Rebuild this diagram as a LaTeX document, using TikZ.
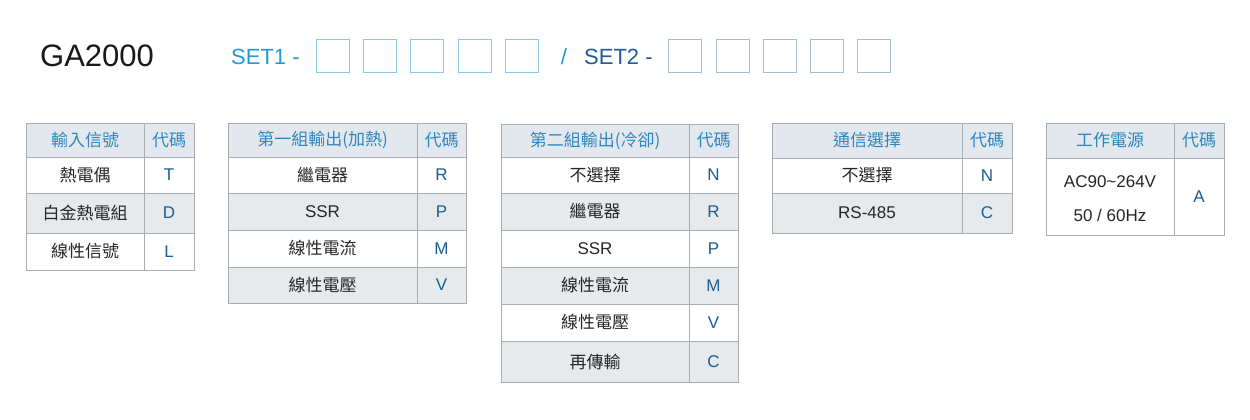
\documentclass[tikz,border=0pt]{standalone}
\usepackage{fontspec}
\setmainfont{Liberation Sans}
\newfontfamily\cjk{Noto Sans CJK TC}
\definecolor{hdr}{HTML}{E2E8ED}
\definecolor{rowgray}{HTML}{E6EAED}
\definecolor{hdrtxt}{HTML}{2F86BE}
\definecolor{codetxt}{HTML}{1B5E91}
\definecolor{lineg}{HTML}{A8ADB2}
\definecolor{setone}{HTML}{1E9AD8}
\definecolor{settwo}{HTML}{1F5C99}
\definecolor{boxone}{HTML}{8CC8E2}
\definecolor{boxtwo}{HTML}{A9BDCD}
\tikzset{
  cell/.style={draw=lineg, line width=0.8pt},
  txt/.style={font=\cjk\fontsize{17}{19}\selectfont, text=black!85, inner sep=0pt},
  htxt/.style={font=\cjk\fontsize{17}{19}\selectfont, text=hdrtxt, inner sep=0pt},
  ctxt/.style={font=\fontsize{17}{19}\selectfont, text=codetxt, inner sep=0pt},
  ltxt/.style={font=\fontsize{17}{19}\selectfont, text=black!85, inner sep=0pt},
  sqone/.style={draw=boxone, line width=0.8pt},
  sqtwo/.style={draw=boxtwo, line width=0.8pt},
}
% \trow{x1}{xd}{x2}{y1}{y2}{fill}{name}{left text}{right text}
\newcommand{\trow}[9]{%
  \fill[fill=#6] (#1,#4) rectangle (#3,#5);
  \draw[cell] (#1,#4) rectangle (#3,#5);
  \draw[cell] (#2,#4) -- (#2,#5);
  \node[txt] (#7l) at ({(#1+#2)/2},{(#4+#5)/2}) {#8};
  \node[ctxt] (#7r) at ({(#2+#3)/2},{(#4+#5)/2}) {#9};
}
\newcommand{\hrow}[8]{%
  \fill[fill=hdr] (#1,#4) rectangle (#3,#5);
  \draw[cell] (#1,#4) rectangle (#3,#5);
  \draw[cell] (#2,#4) -- (#2,#5);
  \node[htxt] (#6l) at ({(#1+#2)/2},{(#4+#5)/2}) {#7};
  \node[htxt] (#6r) at ({(#2+#3)/2},{(#4+#5)/2}) {#8};
}
\newcommand{\lat}[1]{{\rmfamily\fontsize{17}{19}\selectfont #1}}
\begin{document}
\begin{tikzpicture}[x=1pt,y=-1pt]
\useasboundingbox (0,0) rectangle (1250,420);
\node[font=\fontsize{31}{33}\selectfont, text=black!90, anchor=west, inner sep=0pt] (title) at (40,56) {GA2000};
\node[font=\fontsize{22}{24}\selectfont, text=setone, anchor=west, inner sep=0pt] (s1) at (231,57) {SET1 -};
\foreach \x [count=\i] in {316,363,410,458,505} \draw[sqone] (\x,39) rectangle ++(33,33) coordinate (a\i);
\node[font=\fontsize{22}{24}\selectfont, text=setone, inner sep=0pt] (sl) at (564,57) {/};
\node[font=\fontsize{22}{24}\selectfont, text=settwo, anchor=west, inner sep=0pt] (s2) at (584,57) {SET2 -};
\foreach \x [count=\i] in {668,716,763,810,857} \draw[sqtwo] (\x,39) rectangle ++(33,33) coordinate (b\i);
% table 1
\hrow{26}{144}{194}{123}{157}{ah}{輸入信號}{代碼}
\trow{26}{144}{194}{157}{193}{white}{a1}{熱電偶}{T}
\trow{26}{144}{194}{193}{233}{rowgray}{a2}{白金熱電組}{D}
\trow{26}{144}{194}{233}{270}{white}{a3}{線性信號}{L}
% table 2
\hrow{228}{417}{466}{123}{157}{bh}{第一組輸出(加熱)}{代碼}
\trow{228}{417}{466}{157}{193}{white}{b1}{繼電器}{R}
\trow{228}{417}{466}{193}{230}{rowgray}{b2}{\lat{SSR}}{P}
\trow{228}{417}{466}{230}{267}{white}{b3}{線性電流}{M}
\trow{228}{417}{466}{267}{303}{rowgray}{b4}{線性電壓}{V}
% table 3
\hrow{501}{689}{738}{124}{157}{ch}{第二組輸出(冷卻)}{代碼}
\trow{501}{689}{738}{157}{193}{white}{c1}{不選擇}{N}
\trow{501}{689}{738}{193}{230}{rowgray}{c2}{繼電器}{R}
\trow{501}{689}{738}{230}{267}{white}{c3}{\lat{SSR}}{P}
\trow{501}{689}{738}{267}{304}{rowgray}{c4}{線性電流}{M}
\trow{501}{689}{738}{304}{341}{white}{c5}{線性電壓}{V}
\trow{501}{689}{738}{341}{382}{rowgray}{c6}{再傳輸}{C}
% table 4
\hrow{772}{962}{1012}{123}{158}{dh}{通信選擇}{代碼}
\trow{772}{962}{1012}{158}{193}{white}{d1}{不選擇}{N}
\trow{772}{962}{1012}{193}{233}{rowgray}{d2}{\lat{RS-485}}{C}
% table 5
\hrow{1046}{1174}{1224}{123}{158}{eh}{工作電源}{代碼}
\trow{1046}{1174}{1224}{158}{235}{white}{e1}{}{A}
\node[ltxt] (e1a) at (1110,182) {AC90\textasciitilde264V};
\node[ltxt] (e1b) at (1110,215) {50 / 60Hz};
\end{tikzpicture}
\end{document}
